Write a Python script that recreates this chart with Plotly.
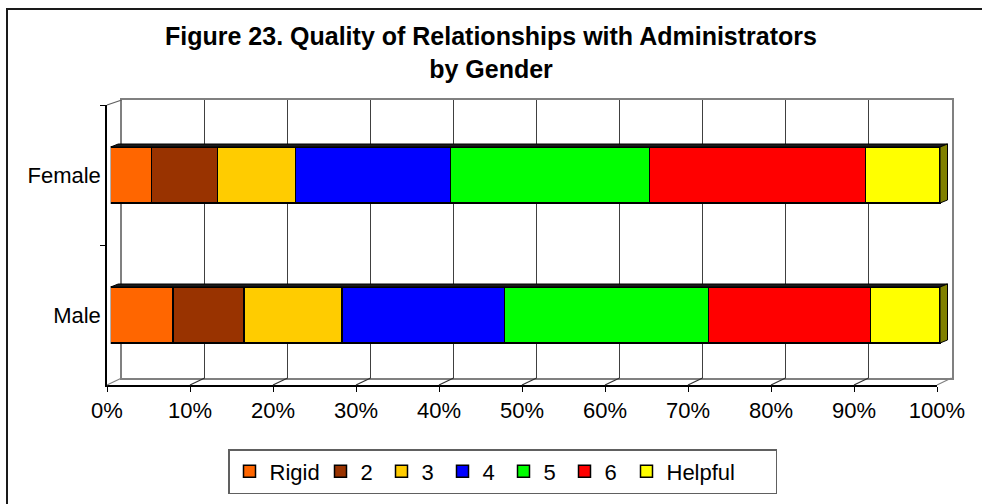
import plotly.graph_objects as go

W, H = 982, 504

categories = ["Male", "Female"]
series_names = ["Rigid", "2", "3", "4", "5", "6", "Helpful"]
series_colors = ["#FF6600", "#993300", "#FFCC00", "#0000FF", "#00FF00", "#FF0000", "#FFFF00"]
# percentages, order: Male, Female
rigid = [7.5, 4.9]
s2 = [8.6, 8.0]
s3 = [11.8, 9.4]
s4 = [19.6, 18.7]
s5 = [24.6, 24.0]
s6 = [19.5, 26.0]
helpful = [8.4, 9.0]
series_values = [rigid, s2, s3, s4, s5, s6, helpful]
x_tickvals = [0, 10, 20, 30, 40, 50, 60, 70, 80, 90, 100]
x_ticktext = ["0%", "10%", "20%", "30%", "40%", "50%", "60%", "70%", "80%", "90%", "100%"]

FONT = "Liberation Sans, Arial, sans-serif"


def px_x(p):
    return p / W


def px_y(p):
    return 1 - p / H


# pixel geometry of the 3D frame
back_l, back_r, back_t, back_b = 121.7, 951.5, 100, 378
front_l, front_r, front_t, front_b = 107, 937, 105, 385
bar_l, bar_r = 110.7, 940
bar_extra = 10  # extra px on the right of the bar subplot for the 3D side face
px_per_unit = (bar_r - bar_l) / 100.0
bar_range_max = 100 + bar_extra / px_per_unit

# legend entry widths (px) to mimic the original spacing
legend_widths = [46, 16, 16, 16, 16, 17, 104]

fig = go.Figure()

# back wall subplot (x, y)
fig.add_trace(go.Scatter(x=[0, 100], y=[0, 1], mode="markers", marker=dict(opacity=0),
                         hoverinfo="skip", showlegend=False, xaxis="x", yaxis="y"))
# front axes subplot (x2, y2)
fig.add_trace(go.Scatter(x=[0, 0], y=categories, mode="markers", marker=dict(opacity=0),
                         hoverinfo="skip", showlegend=False, xaxis="x2", yaxis="y2"))
# bars (x3, y3)
for name, vals, col, lw in zip(series_names, series_values, series_colors, legend_widths):
    fig.add_trace(go.Bar(
        y=categories, x=vals, name=name, orientation="h",
        marker=dict(color=col, line=dict(color="#000000", width=1.5)),
        xaxis="x3", yaxis="y3", legendwidth=lw,
    ))

totals = [sum(v[i] for v in series_values) for i in range(len(categories))]

layout = dict(
    width=W, height=H,
    margin=dict(l=0, r=0, t=0, b=0, autoexpand=False),
    paper_bgcolor="white",
    plot_bgcolor="rgba(0,0,0,0)",
    barmode="stack",
    bargap=0.6,
    font=dict(family=FONT, size=22, color="black"),
    title=dict(
        text="<b>Figure 23. Quality of Relationships with Administrators<br>by Gender</b>",
        x=0.5, xanchor="center", xref="paper",
        y=1 - 45 / H, yanchor="top", yref="container",
        font=dict(family=FONT, size=25, color="black"),
        automargin=False,
    ),
    xaxis=dict(domain=[px_x(back_l), px_x(back_r)], range=[0, 100], anchor="y", automargin=False,
               showline=True, linecolor="#808080", linewidth=2, mirror=True,
               tickvals=x_tickvals[1:-1], showticklabels=False, ticks="",
               showgrid=True, gridcolor="#404040", gridwidth=1, zeroline=False, fixedrange=True),
    yaxis=dict(domain=[px_y(back_b), px_y(back_t)], range=[0, 1], anchor="x", automargin=False,
               showline=True, linecolor="#808080", linewidth=2, mirror=True,
               showticklabels=False, ticks="", showgrid=False, zeroline=False, fixedrange=True),
    xaxis2=dict(domain=[px_x(front_l), px_x(front_r)], range=[0, 100], anchor="y2", automargin=False,
                showline=True, linecolor="#000000", linewidth=1.5,
                tickvals=x_tickvals, ticktext=x_ticktext, ticks="outside", ticklen=5,
                tickcolor="#000000", showgrid=False, zeroline=False,
                tickfont=dict(family=FONT, size=22, color="black"), fixedrange=True),
    yaxis2=dict(domain=[px_y(front_b), px_y(front_t)], type="category", automargin=False,
                categoryorder="array", categoryarray=categories, range=[-0.5, 1.5], anchor="x2",
                showline=True, linecolor="#000000", linewidth=1.5,
                ticks="outside", ticklen=5, tickcolor="#000000", tickson="boundaries",
                showgrid=False, zeroline=False,
                tickfont=dict(family=FONT, size=22, color="black"), fixedrange=True),
    xaxis3=dict(domain=[px_x(bar_l), px_x(bar_r + bar_extra)], range=[0, bar_range_max],
                anchor="y3", visible=False, automargin=False, fixedrange=True),
    yaxis3=dict(domain=[px_y(front_b), px_y(front_t)], type="category", automargin=False,
                categoryorder="array", categoryarray=categories, range=[-0.5, 1.5], anchor="x3",
                visible=False, fixedrange=True),
    legend=dict(
        orientation="h", x=px_x(228), xanchor="left", y=px_y(449), yanchor="top",
        bgcolor="white", bordercolor="#606060", borderwidth=1.5,
        font=dict(family=FONT, size=22, color="black"),
        traceorder="normal",
    ),
    showlegend=True,
)
fig.update_layout(**layout)

shapes = []
# outer border (left & top visible)
shapes.append(dict(type="rect", xref="paper", yref="paper",
                   x0=px_x(7), x1=1.05, y0=-0.05, y1=px_y(9),
                   line=dict(color="#1a1a1a", width=2), fillcolor="rgba(0,0,0,0)"))
# floor diagonals and side-wall edges
for k in x_tickvals:
    fx = front_l + k / 100 * (front_r - front_l)
    bx = back_l + k / 100 * (back_r - back_l)
    col = "#808080" if k in (0, 100) else "#303030"
    shapes.append(dict(type="line", xref="paper", yref="paper",
                       x0=px_x(fx), y0=px_y(front_b), x1=px_x(bx), y1=px_y(back_b),
                       line=dict(color=col, width=1.2)))
shapes.append(dict(type="line", xref="paper", yref="paper",
                   x0=px_x(front_l), y0=px_y(front_t), x1=px_x(back_l), y1=px_y(back_t),
                   line=dict(color="#606060", width=1.2)))

# 3D top face and right side face of each bar
dx = 7.5 / px_per_unit  # depth offset in data units
half = 28
for cat, tot in zip(categories, totals):
    shapes.append(dict(type="path", xref="x3", yref="y3", ysizemode="pixel", yanchor=cat,
                       path=f"M0,{half} L{tot},{half} L{tot + dx},{half + 3} L{dx},{half + 3} Z",
                       fillcolor="#1a1a1a", line=dict(color="#000000", width=1)))
    shapes.append(dict(type="path", xref="x3", yref="y3", ysizemode="pixel", yanchor=cat,
                       path=f"M{tot},{half} L{tot + dx},{half + 3} L{tot + dx},{-half + 3} L{tot},{-half} Z",
                       fillcolor="#808000", line=dict(color="#000000", width=1)))
fig.update_layout(shapes=shapes)

fig.write_html(
    "out.html",
    config={"displayModeBar": False},
    post_script="document.body.style.margin='0px';document.body.style.padding='0px';",
)
